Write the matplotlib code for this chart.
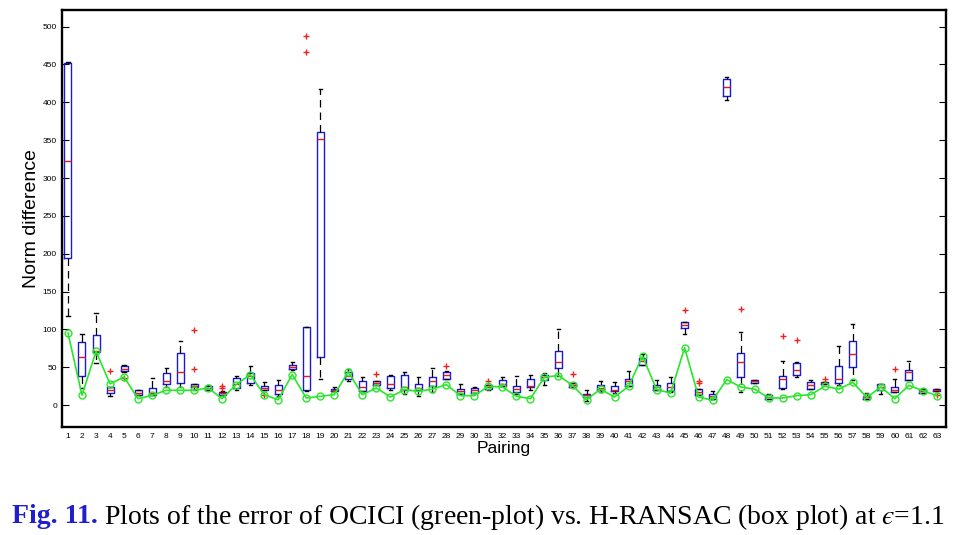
import matplotlib
matplotlib.use("Agg")
import matplotlib.pyplot as plt
import numpy as np

plt.rcParams['mathtext.fontset'] = 'stix'

# H-RANSAC box statistics per pairing
pairing = list(range(1, 64))
q1 = [194, 38.5, 70, 16, 45.6, 13.7, 12.8, 28, 29.2, 24, 20.4, 12.8, 22.6, 29.2, 19.5, 15, 47.8, 19.5, 63.7, 18,
      34.5, 18, 26.5, 22.6, 19.5, 19.5, 24.8, 35, 15, 15.9, 21, 24.8, 16.8, 23.9, 33.6, 49, 23.5, 10.6, 19.5, 18,
      25.7, 53.5, 19.5, 19, 102, 13.7, 8.4, 409, 37.2, 29.2, 8.4, 22.6, 40.3, 21, 28.3, 29.2, 50, 8, 19.5, 16.8,
      33.6, 15.9, 19]
med = [322, 63, 71, 20.5, 48.2, 16.4, 15.9, 31.4, 43, 25.7, 23, 15.5, 27.4, 38, 22, 20.4, 50, 38, 351, 19.5,
       39, 23.9, 29.2, 27.4, 23.9, 22.6, 31.4, 39.8, 18, 19.5, 24, 28.3, 21.2, 25.7, 37.2, 56.6, 26.5, 12.8, 22.6, 20.4,
       31.4, 58, 23.5, 23.9, 105.8, 17.3, 11.5, 420, 56.6, 31.9, 10.6, 35, 46, 27, 29.6, 35, 66.8, 10, 23.9, 20.4,
       43.8, 19, 20.4]
q3 = [452, 83, 92, 24, 51.3, 19.5, 22.6, 42.5, 69, 27.4, 25.7, 16.8, 36.3, 42.5, 24.8, 26, 52.7, 103, 361, 21,
      43.4, 31.4, 32.3, 38, 40.3, 27.9, 36.7, 43.4, 21, 22.6, 27, 33.6, 25.7, 35, 40.3, 71.2, 29.2, 15, 27, 25.7,
      35, 62.4, 27, 29.2, 110, 21, 14.6, 430.7, 69, 33.6, 12.8, 39, 55.8, 30, 30.5, 51.3, 84.5, 12.4, 28.3, 23.9,
      46, 21.7, 21.7]
whis_lo = [117, 22, 56, 11.5, 44, 12.8, 12.8, 24, 24, 20.4, 20.4, 12.8, 19.5, 27, 19.5, 11.5, 46, 18, 34.5, 18,
           32.3, 18, 26.5, 20.4, 14.6, 11.5, 16.8, 35, 15, 15.9, 19.5, 24.8, 15, 20.4, 27, 39, 23.5, 4.9, 17, 16,
           25.7, 53.5, 19.5, 17, 93.4, 13.7, 8.4, 402.8, 16.8, 29.2, 8.4, 21, 37.2, 21, 28.3, 27, 33.6, 8, 15, 16.8,
           33.6, 15.9, 19]
whis_hi = [453, 94, 122, 24, 53, 20.4, 35.8, 49, 84.5, 27.4, 27, 18, 38.9, 51.3, 30.5, 33.6, 57.5, 103, 418, 24,
           47, 37, 32.3, 39.4, 43.4, 37.2, 49, 44.7, 28.3, 24, 27, 37, 38, 40.3, 42.5, 101, 29.2, 19.5, 31.4, 30,
           45.6, 66.8, 32.7, 37, 110, 21, 18, 433.7, 96.5, 33.6, 14.6, 58.8, 57, 33.6, 30.5, 78, 106.6, 15.9, 28.3, 35,
           58.8, 21.7, 21.7]
outliers = {4: [45.6], 5: [36], 10: [98.7, 47.8], 12: [25.7, 22], 15: [13.7], 18: [487, 467], 23: [41.6],
            28: [52], 31: [32.3], 37: [41.6], 45: [125.7], 46: [32.3, 29], 49: [127.4], 52: [91], 53: [85.8],
            55: [34.5], 60: [47.8], 63: [13.7]}

# OCICI error per pairing
ocici = [95, 13, 71, 28, 37, 8.4, 12.8, 19.5, 19.5, 19.5, 22.6, 8.4, 27, 40.3, 13.7, 7, 40.3, 9.3, 11.5, 13.7,
         44, 13.7, 22.6, 10.6, 20.4, 18, 21, 27, 12.4, 12.4, 24.8, 23.9, 11.5, 8.4, 37, 39, 26, 7, 21, 10.6,
         24.8, 64.6, 20.4, 15.9, 75.7, 10.6, 6.2, 33.6, 23.9, 21, 9.3, 9.3, 12.4, 13.7, 24.8, 21, 30, 10, 23.9, 8.4,
         26, 19, 12.4]

stats = []
for i, p in enumerate(pairing):
    stats.append({'q1': q1[i], 'med': med[i], 'q3': q3[i], 'whislo': whis_lo[i], 'whishi': whis_hi[i],
                  'fliers': outliers.get(p, [])})

fig = plt.figure(figsize=(9.65, 5.35), dpi=100)
ax = fig.add_axes([0.0642, 0.2019, 0.9161, 0.7794])

ax.bxp(stats, positions=pairing, widths=0.5, showfliers=True,
       boxprops=dict(color='#1a1ad6', linewidth=1.0),
       medianprops=dict(color='#e01c1c', linewidth=1.0),
       whiskerprops=dict(color='black', linewidth=0.9, linestyle='--', dashes=(6, 4)),
       capprops=dict(color='black', linewidth=1.0),
       flierprops=dict(marker='+', markeredgecolor='#ee2222', markersize=5, markeredgewidth=1.0),
       capwidths=0.22)

ax.plot(pairing, ocici, color='#2ae62a', linewidth=1.2, marker='o', markersize=5,
        markerfacecolor='none', markeredgecolor='#2ae62a', markeredgewidth=1.0, zorder=5)

ax.set_xlim(0.57, 63.65)
ax.set_ylim(-29, 522)
ax.set_xticks(pairing)
ax.set_xticklabels([str(p) for p in pairing], fontsize=6, family='Liberation Sans')
ax.set_yticks(np.arange(0, 501, 50))
ax.set_yticklabels([str(v) for v in range(0, 501, 50)], fontsize=6, family='Liberation Sans')
ax.tick_params(axis='x', length=0, pad=4)
ax.tick_params(axis='y', direction='in', length=5, right=True, width=0.8)
for s in ax.spines.values():
    s.set_linewidth(1.7)

ax.set_xlabel('Pairing', fontsize=12.5, family='Liberation Sans', labelpad=1)
ax.set_ylabel('Norm difference', fontsize=14, family='Liberation Sans')
ax.yaxis.set_label_coords(-0.025, 0.5)

fig.text(0.0125, 0.034, 'Fig. 11.', fontsize=20, color='#1f1fcc', fontweight='bold',
         family='Liberation Serif', va='center', ha='left')
fig.text(0.108, 0.034, 'Plots of the error of OCICI (green-plot) vs. H-RANSAC (box plot) at $ϵ$=1.1',
         fontsize=20, color='black', family='Liberation Serif', va='center', ha='left')

fig.savefig('out.png', dpi=100)
